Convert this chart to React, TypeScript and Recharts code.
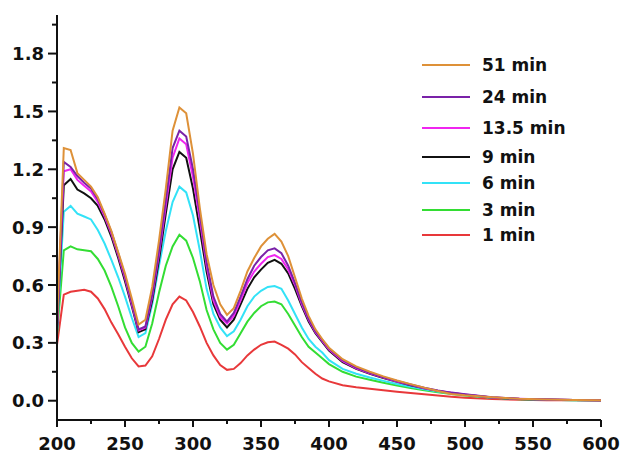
import { LineChart, Line, XAxis, YAxis, Legend } from "recharts";

const WAVELENGTH = [
  200, 205, 210, 215, 220, 225, 230, 235, 240, 245, 250, 255, 260, 265, 270,
  275, 280, 285, 290, 295, 300, 305, 310, 315, 320, 325, 330, 335, 340, 345,
  350, 355, 360, 365, 370, 375, 380, 385, 390, 395, 400, 410, 420, 430, 440,
  450, 460, 470, 480, 490, 500, 520, 540, 560, 580, 600,
];

const MIN_1 = [
  0.29, 0.55, 0.565, 0.57, 0.575, 0.565, 0.53, 0.475, 0.405, 0.345, 0.28, 0.22,
  0.178, 0.182, 0.23, 0.32, 0.42, 0.5, 0.54, 0.52, 0.46, 0.385, 0.3, 0.235,
  0.185, 0.16, 0.165, 0.195, 0.235, 0.265, 0.29, 0.303, 0.307, 0.29, 0.27,
  0.24, 0.2, 0.17, 0.14, 0.115, 0.1, 0.08, 0.07, 0.062, 0.054, 0.047, 0.04,
  0.033, 0.027, 0.021, 0.016, 0.009, 0.005, 0.003, 0.002, 0.001,
];

const MIN_3 = [
  0.34, 0.78, 0.8, 0.785, 0.78, 0.775, 0.735, 0.675, 0.59, 0.49, 0.38, 0.3,
  0.255, 0.28, 0.4, 0.56, 0.7, 0.8, 0.86, 0.83, 0.74, 0.62, 0.47, 0.37, 0.3,
  0.265, 0.29, 0.35, 0.41, 0.455, 0.49, 0.51, 0.514, 0.5, 0.45, 0.39, 0.33,
  0.28, 0.25, 0.22, 0.19, 0.15, 0.125, 0.109, 0.093, 0.079, 0.066, 0.054,
  0.044, 0.035, 0.027, 0.015, 0.008, 0.005, 0.003, 0.002,
];

const MIN_6 = [
  0.35, 0.98, 1.01, 0.97, 0.955, 0.94, 0.885, 0.815, 0.73, 0.64, 0.54, 0.43,
  0.33, 0.35, 0.5, 0.7, 0.88, 1.03, 1.11, 1.08, 0.96, 0.78, 0.58, 0.45, 0.38,
  0.335, 0.36, 0.42, 0.49, 0.54, 0.57, 0.59, 0.595, 0.58, 0.52, 0.45, 0.38,
  0.32, 0.28, 0.25, 0.21, 0.165, 0.14, 0.12, 0.103, 0.087, 0.072, 0.059,
  0.048, 0.038, 0.029, 0.016, 0.009, 0.005, 0.003, 0.002,
];

const MIN_9 = [
  0.36, 1.117, 1.15, 1.095, 1.075, 1.05, 1.01, 0.94, 0.85, 0.74, 0.62, 0.49,
  0.355, 0.37, 0.52, 0.73, 0.97, 1.2, 1.29, 1.26, 1.1, 0.89, 0.67, 0.5, 0.42,
  0.38, 0.42, 0.5, 0.58, 0.64, 0.68, 0.715, 0.73, 0.71, 0.66, 0.58, 0.49,
  0.41, 0.35, 0.305, 0.26, 0.2, 0.165, 0.14, 0.118, 0.098, 0.08, 0.064, 0.051,
  0.04, 0.031, 0.017, 0.009, 0.006, 0.004, 0.003,
];

const MIN_13_5 = [
  0.37, 1.19, 1.2, 1.145, 1.115, 1.085, 1.03, 0.955, 0.865, 0.755, 0.635, 0.5,
  0.365, 0.38, 0.54, 0.76, 1.01, 1.26, 1.36, 1.33, 1.16, 0.94, 0.7, 0.52,
  0.435, 0.4, 0.44, 0.52, 0.61, 0.67, 0.71, 0.745, 0.755, 0.735, 0.68, 0.6,
  0.5, 0.42, 0.355, 0.31, 0.265, 0.205, 0.168, 0.142, 0.12, 0.1, 0.082, 0.065,
  0.052, 0.041, 0.032, 0.017, 0.01, 0.006, 0.004, 0.003,
];

const MIN_24 = [
  0.38, 1.238, 1.212, 1.165, 1.13, 1.1, 1.045, 0.965, 0.875, 0.765, 0.645,
  0.51, 0.37, 0.385, 0.55, 0.78, 1.04, 1.31, 1.4, 1.37, 1.2, 0.97, 0.72, 0.54,
  0.45, 0.41, 0.455, 0.54, 0.63, 0.7, 0.745, 0.78, 0.79, 0.765, 0.7, 0.61,
  0.51, 0.425, 0.36, 0.315, 0.27, 0.21, 0.172, 0.145, 0.122, 0.102, 0.084,
  0.067, 0.053, 0.042, 0.033, 0.018, 0.01, 0.006, 0.004, 0.003,
];

const MIN_51 = [
  0.4, 1.31, 1.3, 1.18, 1.145, 1.11, 1.055, 0.97, 0.88, 0.77, 0.66, 0.53,
  0.395, 0.42, 0.59, 0.83, 1.1, 1.4, 1.52, 1.49, 1.28, 1.0, 0.76, 0.6, 0.5,
  0.445, 0.48, 0.57, 0.67, 0.74, 0.8, 0.84, 0.865, 0.825, 0.75, 0.64, 0.53,
  0.44, 0.37, 0.32, 0.275, 0.215, 0.178, 0.15, 0.126, 0.105, 0.086, 0.068,
  0.05, 0.035, 0.028, 0.018, 0.01, 0.006, 0.004, 0.003,
];

const X_TICKS = [
  200, 225, 250, 275, 300, 325, 350, 375, 400, 425, 450, 475, 500, 525, 550,
  575, 600,
];
const Y_TICKS = [
  0, 0.15, 0.3, 0.45, 0.6, 0.75, 0.9, 1.05, 1.2, 1.35, 1.5, 1.65, 1.8, 1.95,
];

// drawn bottom to top, legend lists them reversed
const SERIES = [
  { key: "m1", name: "1 min", values: MIN_1, color: "#e8383a" },
  { key: "m3", name: "3 min", values: MIN_3, color: "#33dd33" },
  { key: "m6", name: "6 min", values: MIN_6, color: "#33e2f7" },
  { key: "m9", name: "9 min", values: MIN_9, color: "#111111" },
  { key: "m13", name: "13.5 min", values: MIN_13_5, color: "#f025f0" },
  { key: "m24", name: "24 min", values: MIN_24, color: "#7a22a8" },
  { key: "m51", name: "51 min", values: MIN_51, color: "#de9138" },
];

const data = WAVELENGTH.map((w, i) => {
  const row: Record<string, number> = { w };
  SERIES.forEach((s) => (row[s.key] = s.values[i]));
  return row;
});

const FONT = "'DejaVu Sans', sans-serif";
const AXIS = "#111";

const XTick = ({ x, y, payload }: any) => {
  const major = payload.value % 50 === 0;
  return (
    <g>
      <line x1={x} x2={x} y1={y} y2={y + (major ? 7 : 4)} stroke={AXIS} strokeWidth={2} />
      {major && (
        <text x={x} y={y + 30} textAnchor="middle" fontFamily={FONT} fontWeight="bold" fontSize={18} fill="#111">
          {payload.value}
        </text>
      )}
    </g>
  );
};

const YTick = ({ x, y, payload }: any) => {
  const major = Math.round(payload.value * 100) % 30 === 0;
  return (
    <g>
      <line x1={x - (major ? 9 : 5)} x2={x} y1={y} y2={y} stroke={AXIS} strokeWidth={2} />
      {major && (
        <text x={x - 13} y={y + 6.5} textAnchor="end" fontFamily={FONT} fontWeight="bold" fontSize={18} fill="#111">
          {payload.value.toFixed(1)}
        </text>
      )}
    </g>
  );
};

const LEGEND_Y = [65, 97, 128, 157, 183, 210, 235];

const renderLegend = () => (
  <div style={{ position: "relative", width: 623, height: 454 }}>
    {[...SERIES].reverse().map((s, i) => (
      <div
        key={s.key}
        style={{
          position: "absolute",
          left: 422,
          top: LEGEND_Y[i] - 12,
          height: 24,
          display: "flex",
          alignItems: "center",
          fontFamily: FONT,
          fontWeight: "bold",
          fontSize: 17,
          color: "#111",
          whiteSpace: "nowrap",
        }}
      >
        <span style={{ width: 48, height: 2, background: s.color, marginRight: 12 }} />
        <span>{s.name}</span>
      </div>
    ))}
  </div>
);

export default function App() {
  return (
    <div style={{ position: "absolute", left: 0, top: 0, width: 623, height: 454, background: "#fff" }}>
      <LineChart
        width={623}
        height={454}
        data={data}
        margin={{ top: 15, right: 22, left: 0, bottom: 0 }}
      >
        <XAxis
          dataKey="w"
          type="number"
          domain={[200, 600]}
          ticks={X_TICKS}
          interval={0}
          height={34}
          tickSize={0}
          tickMargin={0}
          tickLine={false}
          axisLine={{ stroke: AXIS, strokeWidth: 2 }}
          tick={<XTick />}
        />
        <YAxis
          type="number"
          domain={[-0.1, 2.0]}
          ticks={Y_TICKS}
          interval={0}
          width={57}
          tickSize={0}
          tickMargin={0}
          tickLine={false}
          axisLine={{ stroke: AXIS, strokeWidth: 2 }}
          tick={<YTick />}
          allowDataOverflow
        />
        <Legend
          layout="vertical"
          align="center"
          verticalAlign="middle"
          content={renderLegend}
          wrapperStyle={{ left: 0, top: 0, width: 623, height: 454 }}
        />
        {SERIES.map((s) => (
          <Line
            key={s.key}
            dataKey={s.key}
            name={s.name}
            type="linear"
            stroke={s.color}
            strokeWidth={2}
            dot={false}
            activeDot={false}
            isAnimationActive={false}
          />
        ))}
      </LineChart>
    </div>
  );
}
